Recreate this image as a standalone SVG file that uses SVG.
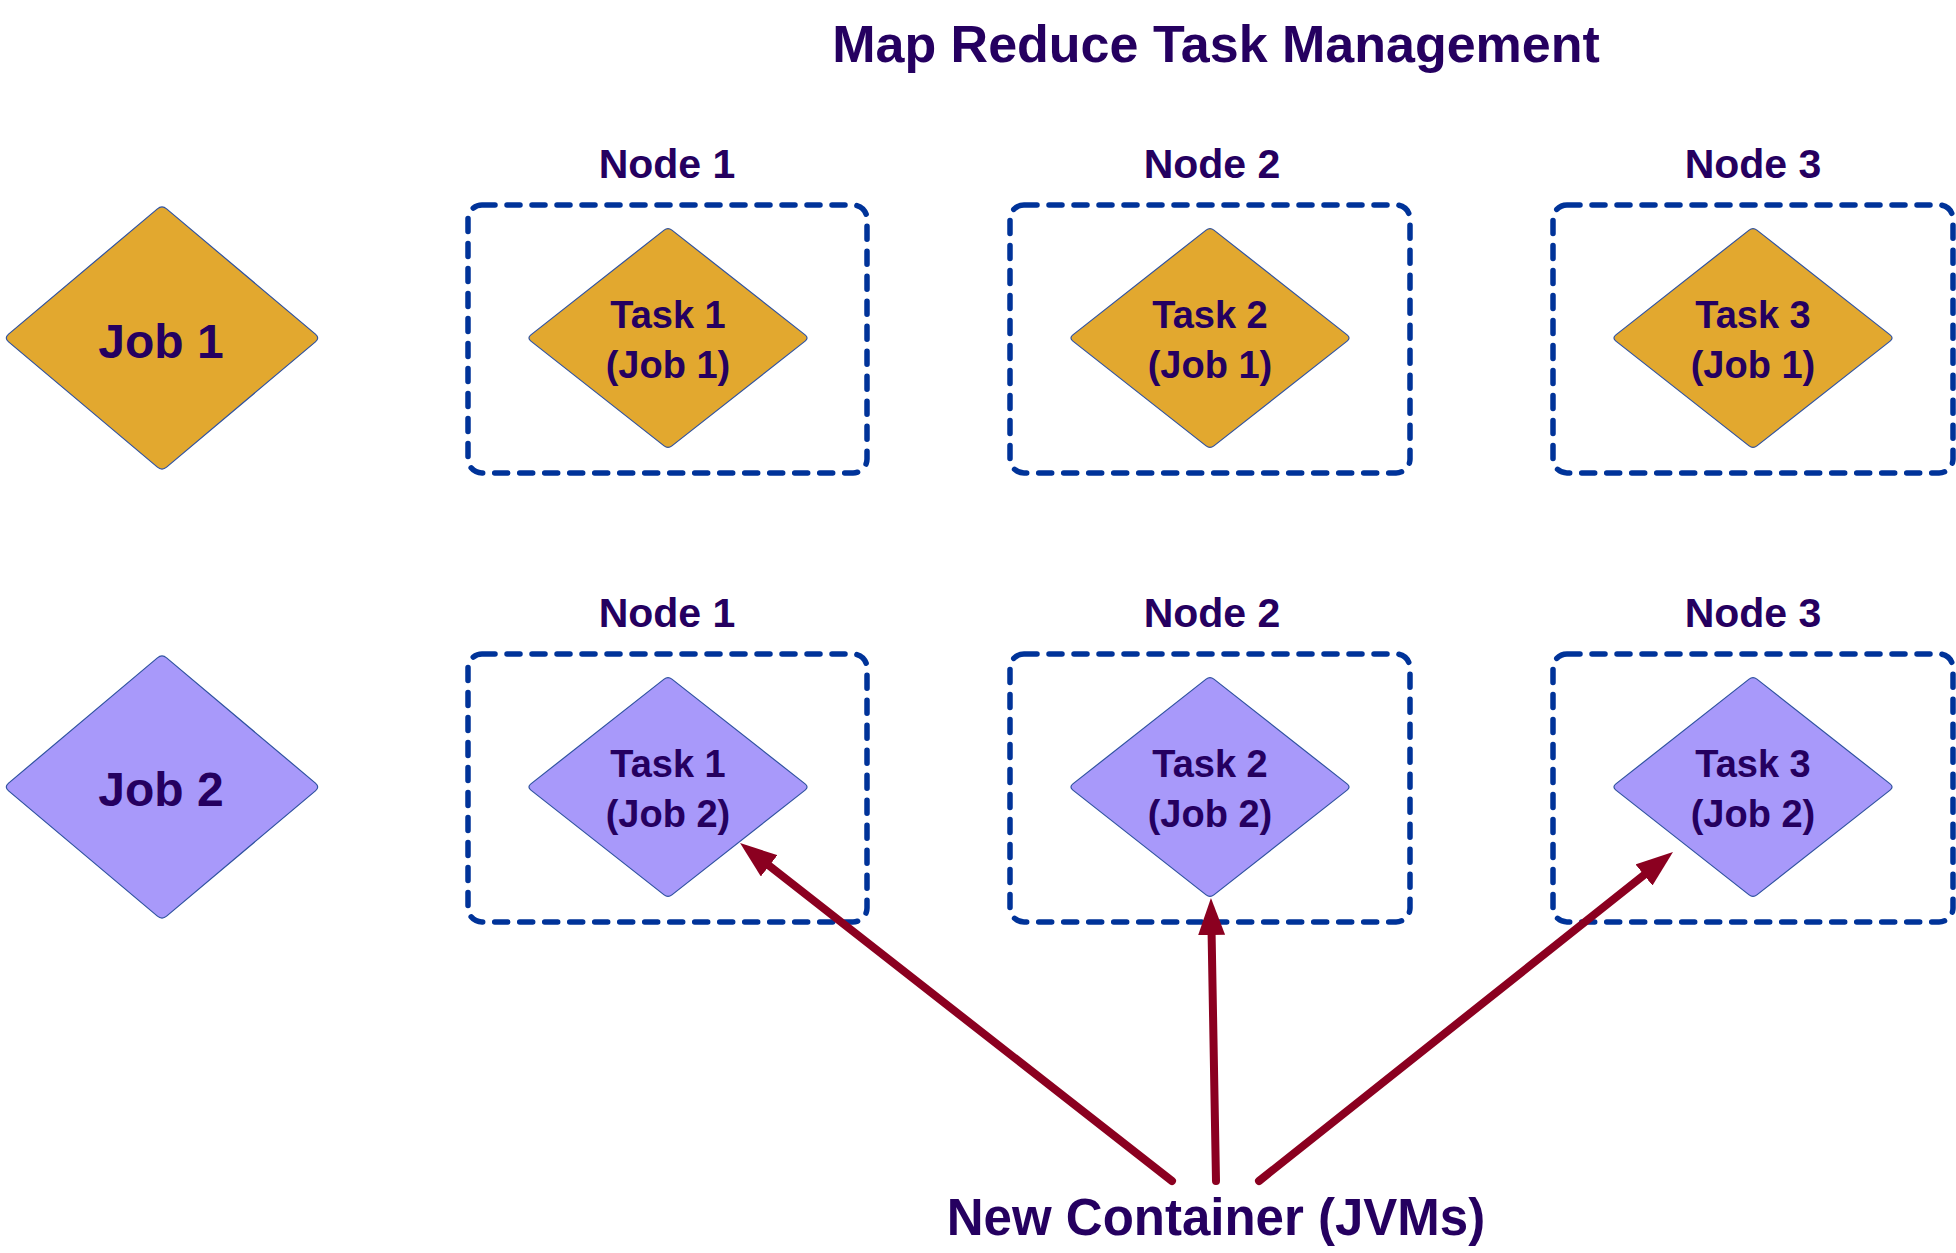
<svg xmlns="http://www.w3.org/2000/svg" xmlns:xlink="http://www.w3.org/1999/xlink" width="1956" height="1253" viewBox="0 0 1956 1253">
<style>
  text { font-family: "Liberation Sans", Arial, sans-serif; font-weight: bold; fill: #250060; text-anchor: middle; }
  .title { font-size: 52px; }
  .nodelbl { font-size: 41px; }
  .job { font-size: 48px; }
  .task { font-size: 38px; }
  .bottom { font-size: 51px; }
  .box { fill: none; stroke: #003399; stroke-width: 5.5; stroke-dasharray: 13 12; stroke-linecap: round; }
  .gold { fill: #E2A82F; stroke: #2F52A0; stroke-width: 1.2; }
  .purple { fill: #A899FA; stroke: #2F52A0; stroke-width: 1.2; }
  .arrow { stroke: #8B0020; stroke-width: 8; stroke-linecap: round; fill: none; marker-end: url(#ah); }
</style>
<defs>
  <path id="jobD" d="M 4.6 -129.1 L 153.4 -3.9 Q 158 0 153.4 3.9 L 4.6 129.1 Q 0 133 -4.6 129.1 L -153.4 3.9 Q -158 0 -153.4 -3.9 L -4.6 -129.1 Q 0 -133 4.6 -129.1 Z"/>
  <path id="taskD" d="M 3.9 -107.9 L 137.1 -3.1 Q 141 0 137.1 3.1 L 3.9 107.9 Q 0 111 -3.9 107.9 L -137.1 3.1 Q -141 0 -137.1 -3.1 L -3.9 -107.9 Q 0 -111 3.9 -107.9 Z"/>
  <marker id="ah" markerUnits="userSpaceOnUse" markerWidth="37" markerHeight="27" viewBox="0 0 37 27" refX="1" refY="13.5" orient="auto">
    <path d="M0,0 L37,13.5 L0,27 Z" fill="#8B0020"/>
  </marker>
</defs>
<rect width="1956" height="1253" fill="#ffffff"/>
<text class="title" x="1216" y="62">Map Reduce Task Management</text>

<g id="job1">
  <use xlink:href="#jobD" href="#jobD" class="gold" transform="translate(162,338)"/>
  <text class="job" x="161" y="358">Job 1</text>
</g>
<g id="job2">
  <use xlink:href="#jobD" href="#jobD" class="purple" transform="translate(162,787)"/>
  <text class="job" x="161" y="806">Job 2</text>
</g>

<g id="node1-row1">
  <text class="nodelbl" x="667" y="178">Node 1</text>
  <rect class="box" x="468" y="205" width="399" height="268" rx="14"/>
</g>
<g id="node2-row1">
  <text class="nodelbl" x="1212" y="178">Node 2</text>
  <rect class="box" x="1010" y="205" width="400" height="268" rx="14"/>
</g>
<g id="node3-row1">
  <text class="nodelbl" x="1753" y="178">Node 3</text>
  <rect class="box" x="1553" y="205" width="400" height="268" rx="14"/>
</g>
<g id="node1-row2">
  <text class="nodelbl" x="667" y="627">Node 1</text>
  <rect class="box" x="468" y="654" width="399" height="268" rx="14"/>
</g>
<g id="node2-row2">
  <text class="nodelbl" x="1212" y="627">Node 2</text>
  <rect class="box" x="1010" y="654" width="400" height="268" rx="14"/>
</g>
<g id="node3-row2">
  <text class="nodelbl" x="1753" y="627">Node 3</text>
  <rect class="box" x="1553" y="654" width="400" height="268" rx="14"/>
</g>

<g id="task1-job1">
  <use xlink:href="#taskD" href="#taskD" class="gold" transform="translate(668,338)"/>
  <text class="task" x="668" y="328">Task 1</text>
  <text class="task" x="668" y="378">(Job 1)</text>
</g>
<g id="task2-job1">
  <use xlink:href="#taskD" href="#taskD" class="gold" transform="translate(1210,338)"/>
  <text class="task" x="1210" y="328">Task 2</text>
  <text class="task" x="1210" y="378">(Job 1)</text>
</g>
<g id="task3-job1">
  <use xlink:href="#taskD" href="#taskD" class="gold" transform="translate(1753,338)"/>
  <text class="task" x="1753" y="328">Task 3</text>
  <text class="task" x="1753" y="378">(Job 1)</text>
</g>
<g id="task1-job2">
  <use xlink:href="#taskD" href="#taskD" class="purple" transform="translate(668,787)"/>
  <text class="task" x="668" y="777">Task 1</text>
  <text class="task" x="668" y="827">(Job 2)</text>
</g>
<g id="task2-job2">
  <use xlink:href="#taskD" href="#taskD" class="purple" transform="translate(1210,787)"/>
  <text class="task" x="1210" y="777">Task 2</text>
  <text class="task" x="1210" y="827">(Job 2)</text>
</g>
<g id="task3-job2">
  <use xlink:href="#taskD" href="#taskD" class="purple" transform="translate(1753,787)"/>
  <text class="task" x="1753" y="777">Task 3</text>
  <text class="task" x="1753" y="827">(Job 2)</text>
</g>

<g id="connectors">
  <line class="arrow" x1="1172" y1="1181" x2="768.4" y2="865.2"/>
  <line class="arrow" x1="1216" y1="1181" x2="1211.6" y2="934"/>
  <line class="arrow" x1="1259" y1="1181" x2="1644.8" y2="874.4"/>
</g>

<g id="new-container">
  <text class="bottom" x="1216" y="1235">New Container (JVMs)</text>
</g>
</svg>
